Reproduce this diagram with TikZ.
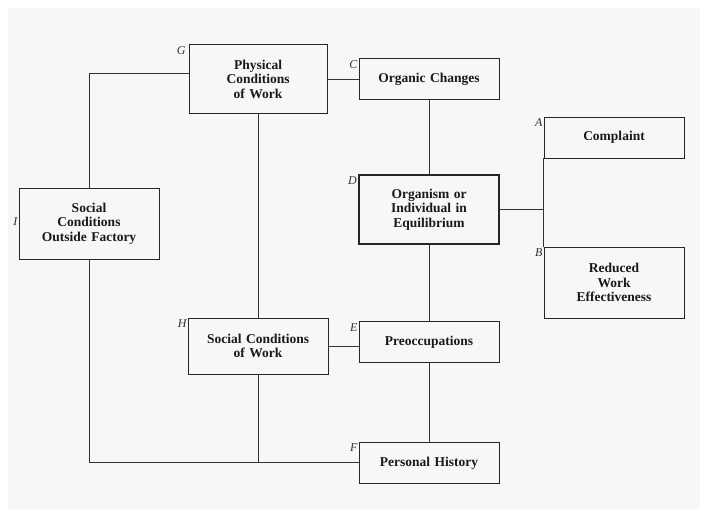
\documentclass[tikz,border=0pt]{standalone}
\usepackage{fontspec}
\setmainfont{Liberation Serif}
\usetikzlibrary{positioning}

\tikzset{
  box/.style={draw=black!85, line width=0.9pt, minimum width=140pt,
    text width=134pt, align=center, inner sep=2pt,
    font=\bfseries\fontsize{13.5}{14.5}\selectfont, text=black!90},
  eqbox/.style={box, line width=2pt},
  tag/.style={anchor=north east, inner sep=1pt, yshift=-1pt,
    font=\itshape\fontsize{12}{12}\selectfont, text=black!80},
  link/.style={draw=black!80, line width=0.9pt},
}

\begin{document}
\begin{tikzpicture}[x=1pt,y=-1pt]
  \useasboundingbox (0,0) rectangle (702,516);
  \fill[black!3] (8,8) rectangle (700,509);

  % middle column
  \node[eqbox, minimum height=69pt] (D) at (429,209.5) {Organism or\\Individual in\\Equilibrium};
  \node[box, minimum height=41pt, above=74pt of D] (C) {Organic Changes};
  \node[box, minimum height=41pt, below=76pt of D] (E) {Preoccupations};
  \node[box, minimum height=41pt, below=79pt of E] (F) {Personal History};

  % left columns
  \node[box, minimum height=69pt, minimum width=138pt, left=31pt of C] (G) {Physical\\Conditions\\of Work};
  \node[box, minimum height=56pt, left=30pt of E, yshift=-4pt] (H) {Social Conditions\\of Work};
  \node[box, minimum height=71pt] (I) at (89,223.5) {Social\\Conditions\\Outside Factory};

  % right column
  \node[box, minimum height=41pt] (A) at (614,137.5) {Complaint};
  \node[box, minimum height=71pt] (B) at (614,282.5) {Reduced\\Work\\Effectiveness};

  % letters
  \node[tag] (tA) at (A.north west) {A};
  \node[tag] (tB) at (B.north west) {B};
  \node[tag] (tC) at (C.north west) {C};
  \node[tag] (tD) at (D.north west) {D};
  \node[tag] (tE) at (E.north west) {E};
  \node[tag] (tF) at (F.north west) {F};
  \node[tag, xshift=-2pt] (tG) at (G.north west) {G};
  \node[tag] (tH) at (H.north west) {H};
  \node[tag] (tI) at ([yshift=-28pt]I.north west) {I};

  % connections
  \draw[link] ([yshift=6pt]G.west) -| (I.north);
  \draw[link] (G) -- (C);
  \draw[link] (G) -- (H);
  \draw[link] (C) -- (D);
  \draw[link] (D) -- (E);
  \draw[link] (E) -- (F);
  \draw[link] (H) -- (H -| E.west);
  \draw[link] (D.east) -- (D.east -| A.west);
  \draw[link] (A.south west) -- (B.north west);
  \draw[link] (I.south) |- (F.west);
  \draw[link] (H.south) -- (H.south |- F.west);
\end{tikzpicture}
\end{document}
